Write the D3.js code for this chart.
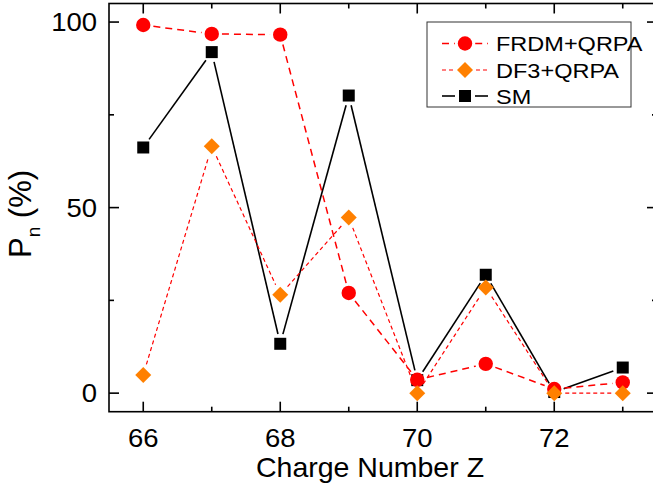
<!DOCTYPE html>
<html><head><meta charset="utf-8">
<script src="https://cdn.jsdelivr.net/npm/d3@7"></script>
<style>html,body{margin:0;padding:0;background:#fff;}svg{display:block;font-family:Arial,"Liberation Sans",sans-serif;}</style>
</head><body>
<svg id="chart" width="653" height="491"></svg>
<script>
const charges = [66, 67, 68, 69, 70, 71, 72, 73];
const frdm = [99.2, 96.8, 96.6, 27.0, 3.6, 7.9, 1.1, 2.9];
const df3 = [4.9, 66.5, 26.5, 47.3, 0.0, 28.5, 0.0, 0.0];
const sm = [66.2, 91.9, 13.3, 80.2, 3.5, 31.9, 0.3, 6.9];
const xMajor = [66, 68, 70, 72];
const xMinor = [67, 69, 71, 73];
const yMajor = [0, 50, 100];
const yMinor = [25, 75];
const seriesNames = ["FRDM+QRPA", "DF3+QRPA", "SM"];

const svg = d3.select("#chart");
const L = 109, R = 657, T = 3.5, B = 411.7;
const x = d3.scaleLinear().domain([65.5, 73.5]).range([L, R]);
const y = d3.scaleLinear().domain([-5, 105]).range([B, T]);
const SX = 1.1; // horizontal text stretch seen in reference

const styles = {
  "SM": {color: "#000", dash: null, width: 1.6, shape: "square", size: 12, gap: 3},
  "FRDM+QRPA": {color: "#ff0000", dash: "7,5", width: 1.5, shape: "circle", size: 7.2, gap: 3},
  "DF3+QRPA": {color: "#ff0000", dash: "4,3", width: 1.2, shape: "diamond", size: 8, gap: 3}
};
const markerFill = {"SM": "#000", "FRDM+QRPA": "#ff0000", "DF3+QRPA": "#ff8000"};

function marker(g, shape, cx, cy, s, fill) {
  if (shape === "circle") g.append("circle").attr("cx", cx).attr("cy", cy).attr("r", s).attr("fill", fill);
  else if (shape === "square") g.append("rect").attr("x", cx - s/2).attr("y", cy - s/2).attr("width", s).attr("height", s).attr("fill", fill);
  else g.append("path").attr("d", `M${cx},${cy-s}L${cx+s},${cy}L${cx},${cy+s}L${cx-s},${cy}Z`).attr("fill", fill);
}
function radius(st) { return st.shape === "square" ? st.size/2 + 1 : st.size; }

const plot = svg.append("g");
const data = {"FRDM+QRPA": frdm, "DF3+QRPA": df3, "SM": sm};
const order = ["SM", "FRDM+QRPA", "DF3+QRPA"];
order.forEach(name => {
  const st = styles[name];
  const vals = data[name];
  const pts = charges.map((c, i) => [x(c), y(vals[i])]);
  const g = plot.append("g");
  const cut = radius(st) + st.gap;
  for (let i = 0; i < pts.length - 1; i++) {
    const [x1, y1] = pts[i], [x2, y2] = pts[i+1];
    const dx = x2 - x1, dy = y2 - y1, len = Math.hypot(dx, dy);
    if (len <= 2 * cut) continue;
    const ux = dx/len, uy = dy/len;
    const ln = g.append("line")
      .attr("x1", x1 + ux*cut).attr("y1", y1 + uy*cut)
      .attr("x2", x2 - ux*cut).attr("y2", y2 - uy*cut)
      .attr("stroke", st.color).attr("stroke-width", st.width);
    if (st.dash) ln.attr("stroke-dasharray", st.dash);
  }
});
order.forEach(name => {
  const st = styles[name];
  const vals = data[name];
  const g = plot.append("g");
  charges.forEach((c, i) => marker(g, st.shape, x(c), y(vals[i]), st.size, markerFill[name]));
});

// frame
const ax = svg.append("g").attr("stroke", "#000").attr("stroke-width", 1.6).attr("fill", "none");
ax.append("rect").attr("x", L).attr("y", T).attr("width", R - L).attr("height", B - T);
xMajor.forEach(v => {
  ax.append("line").attr("x1", x(v)).attr("x2", x(v)).attr("y1", B).attr("y2", B - 10);
  ax.append("line").attr("x1", x(v)).attr("x2", x(v)).attr("y1", T).attr("y2", T + 10);
});
xMinor.forEach(v => {
  ax.append("line").attr("x1", x(v)).attr("x2", x(v)).attr("y1", B).attr("y2", B - 5);
  ax.append("line").attr("x1", x(v)).attr("x2", x(v)).attr("y1", T).attr("y2", T + 5);
});
yMajor.forEach(v => {
  ax.append("line").attr("x1", L).attr("x2", L + 10).attr("y1", y(v)).attr("y2", y(v));
  ax.append("line").attr("x1", R).attr("x2", R - 10).attr("y1", y(v)).attr("y2", y(v));
});
yMinor.forEach(v => {
  ax.append("line").attr("x1", L).attr("x2", L + 5).attr("y1", y(v)).attr("y2", y(v));
  ax.append("line").attr("x1", R).attr("x2", R - 5).attr("y1", y(v)).attr("y2", y(v));
});

// tick labels
svg.append("g").selectAll("text").data(xMajor).join("text")
  .attr("transform", d => `translate(${x(d)},447) scale(${SX},1)`).attr("text-anchor", "middle")
  .attr("font-size", 25).attr("fill", "#000").text(d => d);
svg.append("g").selectAll("text").data(yMajor).join("text")
  .attr("transform", d => `translate(97,${y(d)}) scale(${SX},1)`).attr("dy", "0.36em").attr("text-anchor", "end")
  .attr("font-size", 25).attr("fill", "#000").text(d => d);

// axis titles
svg.append("text").attr("x", (L + 653) / 2 - 11).attr("y", 477).attr("text-anchor", "middle")
  .attr("font-size", 28.5).attr("fill", "#000").text("Charge Number Z");
const yl = svg.append("text").attr("transform", "translate(31,214) rotate(-90)")
  .attr("text-anchor", "middle").attr("font-size", 31).attr("fill", "#000");
yl.append("tspan").text("P");
yl.append("tspan").attr("font-size", 19).attr("dy", 9).text("n");
yl.append("tspan").attr("dy", -9).text(" (%)");

// legend
const lg = svg.append("g");
lg.append("rect").attr("x", 427).attr("y", 22).attr("width", 204).attr("height", 85)
  .attr("fill", "#fff").attr("stroke", "#333").attr("stroke-width", 1);
const rowY = [43.5, 70, 96];
seriesNames.forEach((name, i) => {
  const st = styles[name];
  const cy = rowY[i];
  const cut = radius(st) + st.gap;
  const mx = 465;
  [[442, mx - cut], [mx + cut, 488]].forEach(([a, b]) => {
    const ln = lg.append("line").attr("x1", a).attr("x2", b).attr("y1", cy).attr("y2", cy)
      .attr("stroke", st.color).attr("stroke-width", st.width);
    if (st.dash) ln.attr("stroke-dasharray", st.dash);
  });
  marker(lg, st.shape, mx, cy, st.size, markerFill[name]);
  lg.append("text").attr("transform", `translate(496,${cy}) scale(1.12,1)`).attr("dy", "0.36em")
    .attr("font-size", 21).attr("fill", "#000").text(name);
});
</script>
</body></html>
